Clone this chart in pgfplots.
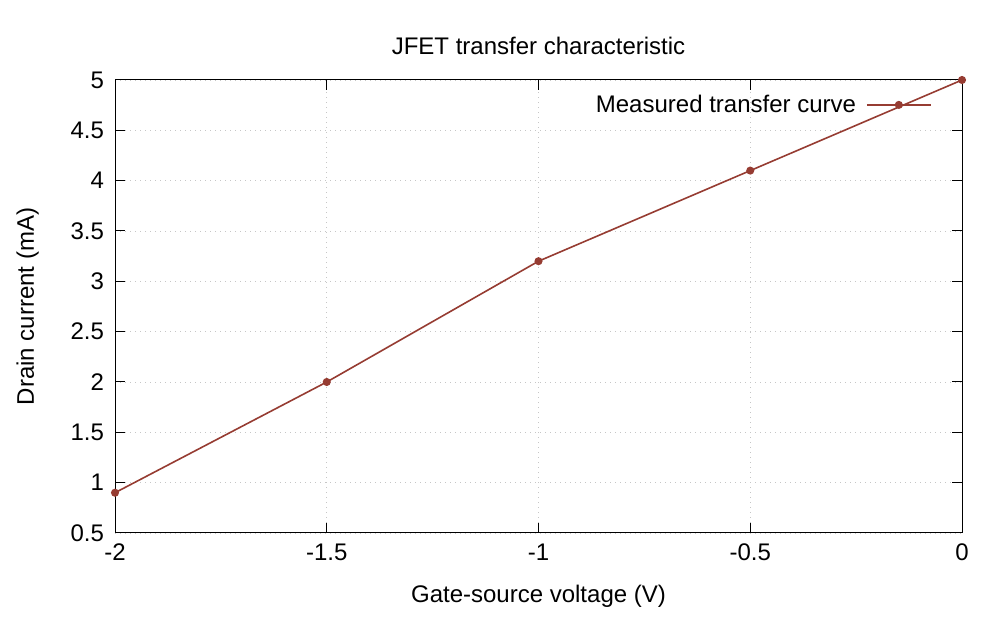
\documentclass[border=0pt]{standalone}
\usepackage{fontspec}
\setmainfont{Liberation Sans}
\usepackage{pgfplots}
\pgfplotsset{compat=1.18}
\definecolor{curve}{RGB}{150,60,50}
\begin{document}
\begin{tikzpicture}[x=1pt,y=1pt]
\path[use as bounding box] (0,0) rectangle (500,310);
\begin{axis}[
  at={(57.5pt,43.5pt)}, anchor=south west,
  scale only axis, width=423.5pt, height=226.5pt,
  xmin=-2, xmax=0, ymin=0.5, ymax=5,
  xtick={-2,-1.5,-1,-0.5,0},
  ytick={0.5,1,1.5,2,2.5,3,3.5,4,4.5,5},
  /pgf/number format/assume math mode=true,
  tick label style={font=\fontsize{12}{14}\selectfont},
  xticklabel style={yshift=-2pt},
  yticklabel style={xshift=-2pt},
  tick align=inside, major tick length=5pt,
  tick style={black, line width=0.5pt},
  axis line style={black, line width=0.5pt},
  grid=major,
  major grid style={gray!45, line width=0.4pt, dash pattern=on 0.5pt off 2pt},
  title={JFET transfer characteristic},
  title style={font=\fontsize{12}{14}\selectfont, yshift=3pt},
  xlabel={Gate-source voltage (V)},
  ylabel={Drain current (mA)},
  label style={font=\fontsize{12}{14}\selectfont},
  xlabel style={yshift=-5pt},
  ylabel style={yshift=9pt},
  legend plot pos=right,
  legend style={draw=none, fill=none, at={(0.9646,0.945)}, anchor=east,
    font=\fontsize{12}{14}\selectfont, inner sep=0pt},
  legend image code/.code={
    \path (0pt,0pt);
    \draw[#1, mark=none] (3pt,0pt) -- (35pt,0pt);
    \draw[#1, only marks] plot coordinates {(19pt,0pt)};
  },
]
\addplot[color=curve, line width=0.8pt, mark=*, mark size=1.6pt] coordinates {
  (-2,0.9) (-1.5,2.0) (-1,3.2) (-0.5,4.1) (0,5.0)
};
\addlegendentry{Measured transfer curve}
\end{axis}
\end{tikzpicture}
\end{document}
